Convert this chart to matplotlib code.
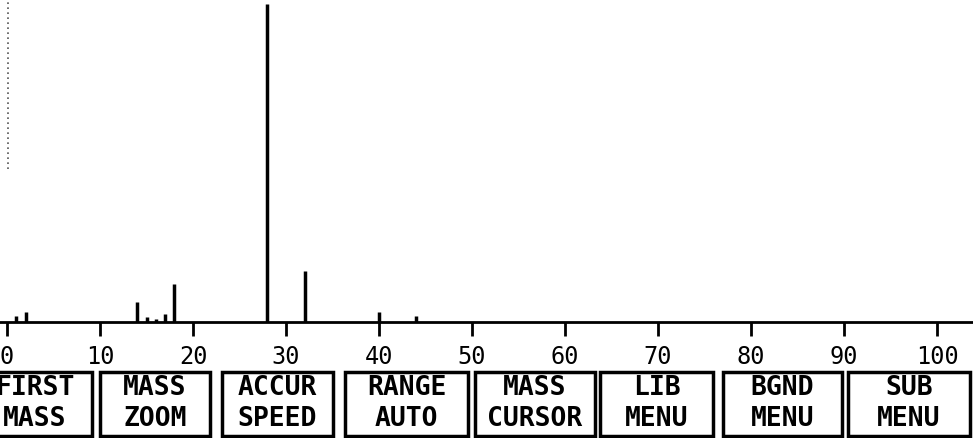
import matplotlib.pyplot as plt
from matplotlib.patches import Rectangle

# m/z peaks, intensity relative to base peak (28 = 100)
mz = [1, 2, 14, 15, 16, 17, 18, 28, 32, 40, 44]
intensity = [1.9, 3.1, 6.3, 1.6, 0.9, 2.5, 12.0, 100.0, 16.0, 3.1, 1.9]
ticks = [0, 10, 20, 30, 40, 50, 60, 70, 80, 90, 100]
buttons = [('FIRST', 'MASS'), ('MASS', 'ZOOM'), ('ACCUR', 'SPEED'), ('RANGE', 'AUTO'),
		   ('MASS', 'CURSOR'), ('LIB', 'MENU'), ('BGND', 'MENU'), ('SUB', 'MENU')]
# button box edges in screen pixels
box_x = [(-5, 92), (100, 210), (222, 333), (345, 468), (475, 595), (600, 713), (723, 842), (848, 970)]

W, H = 973, 439
fig = plt.figure(figsize=(W / 100, H / 100), dpi=100)
fig.patch.set_facecolor('white')

# spectrum axes: baseline at y=323 px, x=0 at 7 px, 10 units = 93 px
base = 323
ax = fig.add_axes([0, 1 - base / H, 1, base / H])
ax.set_xlim(-7 / 9.3, (W - 7) / 9.3)
ax.set_ylim(0, base / 318 * 100)
ax.vlines(mz, 0, intensity, colors='black', linewidth=2.5)
# faint dotted trace along the left edge
ax.vlines([0.1], 48, 101, colors='#555555', linewidth=1.2, linestyles=(0, (1, 2)))

for s in ['top', 'right', 'left']:
	ax.spines[s].set_visible(False)
ax.spines['bottom'].set_linewidth(2)
ax.set_yticks([])
ax.set_xticks(ticks)
ax.set_xticklabels([str(t) for t in ticks], fontfamily='DejaVu Sans Mono',
				   fontsize=17, fontweight='normal')
ax.tick_params(axis='x', direction='out', length=10, width=2, pad=6)
ax.get_xticklabels()[0].set_x(-0.7)
ax.set_facecolor('none')

# soft-key buttons overlay
bx = fig.add_axes([0, 0, 1, 1])
bx.set_xlim(0, W)
bx.set_ylim(H, 0)
bx.axis('off')
bx.set_facecolor('none')
y0, y1 = 373, 437
for i, ((l1, l2), (xa, xb)) in enumerate(zip(buttons, box_x)):
	bx.add_patch(Rectangle((xa, y0), xb - xa, y1 - y0, fill=False,
						   edgecolor='black', linewidth=2.5))
	cx = 35 if i == 0 else (xa + xb) / 2
	for txt, ty in [(l1, 388), (l2, 419)]:
		bx.text(cx, ty, txt, ha='center', va='center', fontfamily='DejaVu Sans Mono',
				fontsize=19, fontweight='bold', color='black')

fig.savefig('out.png', dpi=100, facecolor='white')
